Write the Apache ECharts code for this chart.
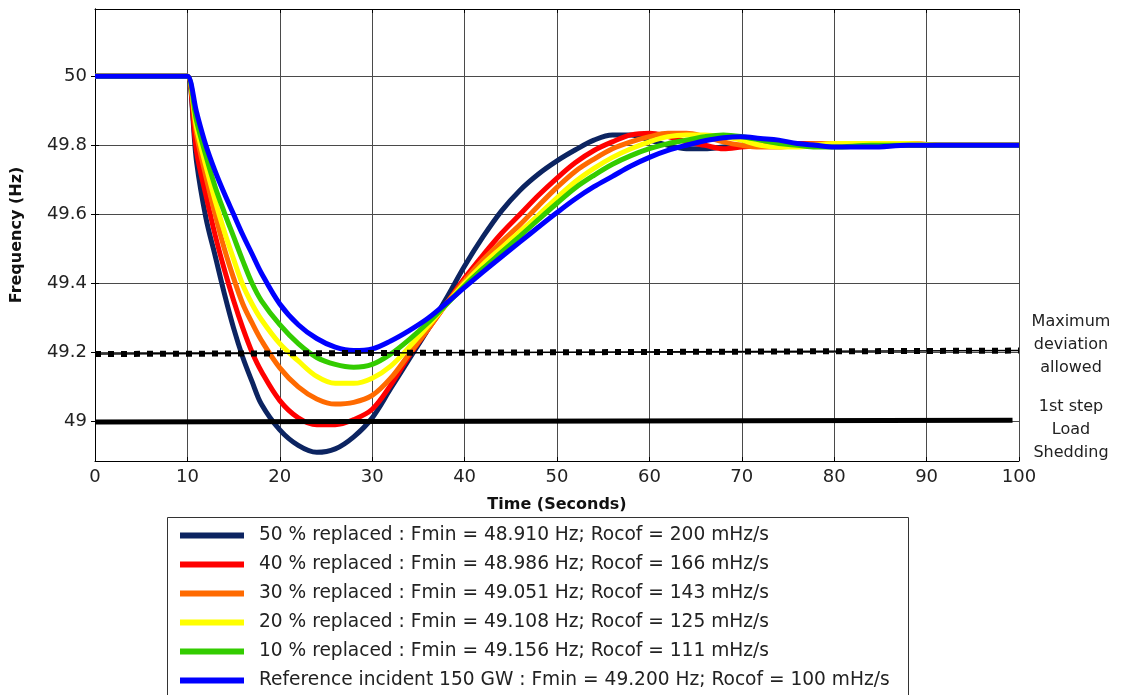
<!DOCTYPE html>
<html>
<head>
<meta charset="utf-8">
<title>Frequency response</title>
<script src="https://cdn.jsdelivr.net/npm/echarts@6/dist/echarts.min.js"></script>
<style>
html,body{margin:0;padding:0;background:#fff;}
#main{width:1121px;height:695px;}
</style>
</head>
<body>
<div id="main"></div>
<script>
// time (s)
var T = [0, 9.5, 10, 11, 12, 13, 14, 15, 16, 17, 18, 20, 22, 24, 26, 28, 30, 32, 34, 36, 38, 40, 42, 44, 46, 48, 50, 52, 54, 56, 58, 60, 62, 64, 66, 68, 70, 72, 74, 76, 78, 80, 84, 88, 92, 96, 100];

// frequency (Hz) per case
var f50 = [50, 50, 50, 49.75, 49.59, 49.48, 49.37, 49.27, 49.185, 49.115, 49.05, 48.975, 48.93, 48.91, 48.92, 48.955, 49.01, 49.095, 49.18, 49.265, 49.355, 49.45, 49.535, 49.61, 49.67, 49.717, 49.755, 49.787, 49.815, 49.83, 49.83, 49.815, 49.80, 49.79, 49.79, 49.795, 49.80, 49.80, 49.80, 49.80, 49.80, 49.80, 49.80, 49.80, 49.80, 49.80, 49.80];
var f40 = [50, 50, 50, 49.78, 49.655, 49.54, 49.44, 49.35, 49.27, 49.20, 49.145, 49.06, 49.01, 48.99, 48.99, 49.005, 49.035, 49.105, 49.19, 49.265, 49.34, 49.415, 49.482, 49.545, 49.60, 49.655, 49.705, 49.75, 49.785, 49.81, 49.83, 49.835, 49.825, 49.81, 49.80, 49.79, 49.795, 49.80, 49.805, 49.805, 49.805, 49.805, 49.805, 49.805, 49.80, 49.80, 49.80];
var f30 = [50, 50, 50, 49.83, 49.71, 49.60, 49.50, 49.415, 49.34, 49.285, 49.235, 49.155, 49.10, 49.065, 49.05, 49.055, 49.075, 49.125, 49.195, 49.265, 49.34, 49.408, 49.468, 49.52, 49.57, 49.625, 49.678, 49.725, 49.76, 49.79, 49.81, 49.825, 49.835, 49.835, 49.825, 49.81, 49.80, 49.795, 49.795, 49.80, 49.805, 49.805, 49.805, 49.80, 49.80, 49.80, 49.80];
var f20 = [50, 50, 50, 49.85, 49.74, 49.64, 49.55, 49.47, 49.395, 49.34, 49.295, 49.225, 49.175, 49.13, 49.11, 49.11, 49.125, 49.16, 49.215, 49.275, 49.338, 49.40, 49.455, 49.503, 49.55, 49.598, 49.648, 49.695, 49.733, 49.765, 49.79, 49.81, 49.825, 49.83, 49.83, 49.825, 49.815, 49.80, 49.795, 49.795, 49.80, 49.805, 49.805, 49.805, 49.80, 49.80, 49.80];
var f10 = [50, 50, 50, 49.87, 49.77, 49.68, 49.605, 49.535, 49.465, 49.40, 49.35, 49.28, 49.225, 49.185, 49.165, 49.157, 49.165, 49.195, 49.237, 49.285, 49.338, 49.393, 49.443, 49.49, 49.537, 49.585, 49.632, 49.677, 49.713, 49.745, 49.77, 49.79, 49.805, 49.815, 49.825, 49.83, 49.825, 49.815, 49.805, 49.80, 49.795, 49.795, 49.80, 49.80, 49.80, 49.80, 49.80];
var fRef = [50, 50, 50, 49.895, 49.80, 49.725, 49.66, 49.60, 49.54, 49.485, 49.43, 49.34, 49.28, 49.24, 49.215, 49.205, 49.21, 49.233, 49.263, 49.298, 49.342, 49.388, 49.433, 49.477, 49.52, 49.563, 49.605, 49.645, 49.68, 49.71, 49.74, 49.765, 49.785, 49.80, 49.813, 49.822, 49.825, 49.82, 49.815, 49.805, 49.80, 49.795, 49.795, 49.80, 49.80, 49.80, 49.80];

// threshold lines [t, f]
var maxDev = [[0, 49.195], [100, 49.205]];
var shedding = [[0, 48.998], [99.3, 49.003]];

var names = [
    '50 % replaced : Fmin = 48.910 Hz; Rocof = 200 mHz/s',
    '40 % replaced : Fmin = 48.986 Hz; Rocof = 166 mHz/s',
    '30 % replaced : Fmin = 49.051 Hz; Rocof = 143 mHz/s',
    '20 % replaced : Fmin = 49.108 Hz; Rocof = 125 mHz/s',
    '10 % replaced : Fmin = 49.156 Hz; Rocof = 111 mHz/s',
    'Reference incident 150 GW : Fmin = 49.200 Hz; Rocof = 100 mHz/s'
];
var colors = ['#0c2461', '#ff0000', '#ff6a00', '#ffff00', '#33cc00', '#0000ff'];
var values = [f50, f40, f30, f20, f10, fRef];

var yTicks = [49, 49.2, 49.4, 49.6, 49.8, 50];
var yMin = 48.885, yMax = 50.195;
var font = 'DejaVu Sans';

function pairs(v){
    return T.map(function(t, i){ return [t, v[i]]; });
}

var series = [];
for (var i = 0; i < values.length; i++) {
    series.push({
        name: names[i],
        type: 'line',
        data: pairs(values[i]),
        smooth: 0.35,
        symbol: 'none',
        color: colors[i],
        lineStyle: {width: 5, color: colors[i]},
        z: 3 + i
    });
}
/* threshold lines */
series.push({
    name: 'maxdev_thin', type: 'line', data: maxDev, symbol: 'none', silent: true,
    lineStyle: {color: '#000', width: 1.5}, z: 20
});
series.push({
    name: 'maxdev', type: 'line', data: maxDev, symbol: 'none', silent: true,
    lineStyle: {color: '#000', width: 6, type: [6, 7], cap: 'butt'}, z: 21
});
series.push({
    name: 'shedding', type: 'line', data: shedding, symbol: 'none', silent: true,
    lineStyle: {color: '#000', width: 5}, z: 21
});

var chart = echarts.init(document.getElementById('main'));
var option = {
    backgroundColor: '#fff',
    animation: false,
    textStyle: {fontFamily: font},
    grid: {left: 95, right: 102, top: 9, bottom: 234},
    legend: {
        data: names,
        orient: 'vertical',
        left: 180,
        top: 526,
        padding: 0,
        itemGap: 10,
        itemWidth: 64,
        itemHeight: 6,
        icon: 'rect',
        selectedMode: false,
        textStyle: {fontFamily: font, fontSize: 18.6, color: '#222', padding: [0, 0, 0, 10]}
    },
    xAxis: [{
        type: 'value', min: 0, max: 100, interval: 10,
        name: 'Time (Seconds)', nameLocation: 'middle', nameGap: 36,
        nameTextStyle: {fontFamily: font, fontSize: 16, fontWeight: 'bold', color: '#111'},
        axisLine: {lineStyle: {color: '#000', width: 1}},
        axisTick: {inside: true, length: 4, lineStyle: {color: '#000'}},
        axisLabel: {fontFamily: font, fontSize: 18, color: '#222', margin: 7},
        splitLine: {show: true, lineStyle: {color: '#4a4a4a', width: 1}}
    }, {
        type: 'value', min: 0, max: 100, interval: 10, position: 'top',
        axisLine: {show: true, lineStyle: {color: '#000', width: 1}},
        axisTick: {inside: true, length: 4, lineStyle: {color: '#000'}},
        axisLabel: {show: false},
        splitLine: {show: false}
    }],
    yAxis: [{
        type: 'value', min: yMin, max: yMax,
        name: 'Frequency (Hz)', nameLocation: 'middle', nameGap: 70,
        nameTextStyle: {fontFamily: font, fontSize: 16, fontWeight: 'bold', color: '#111'},
        axisLine: {show: true, lineStyle: {color: '#000', width: 1}},
        axisTick: {show: true, inside: true, length: 4, customValues: yTicks, lineStyle: {color: '#000'}},
        axisLabel: {customValues: yTicks, fontFamily: font, fontSize: 18, color: '#222', margin: 8},
        splitLine: {show: true, lineStyle: {color: '#4a4a4a', width: 1}}
    }, {
        type: 'value', min: yMin, max: yMax, position: 'right',
        axisLine: {show: true, lineStyle: {color: '#000', width: 1}},
        axisTick: {show: true, inside: true, length: 4, customValues: yTicks, lineStyle: {color: '#000'}},
        axisLabel: {show: false},
        splitLine: {show: false}
    }],
    graphic: [{
        type: 'rect',
        shape: {x: 167.5, y: 517.5, width: 741, height: 200},
        style: {fill: 'none', stroke: '#333', lineWidth: 1},
        silent: true
    }, {
        type: 'text',
        style: {x: 1071, y: 310, text: 'Maximum\ndeviation\nallowed', font: '16px "DejaVu Sans"', fill: '#222', align: 'center', verticalAlign: 'top', lineHeight: 23}
    }, {
        type: 'text',
        style: {x: 1071, y: 395, text: '1st step\nLoad\nShedding', font: '16px "DejaVu Sans"', fill: '#222', align: 'center', verticalAlign: 'top', lineHeight: 23}
    }],
    series: series
};
chart.setOption(option);
</script>
</body>
</html>
